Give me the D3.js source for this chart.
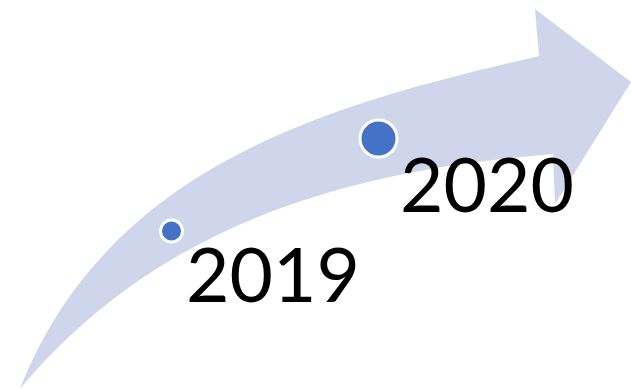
<!DOCTYPE html>
<html>
<head>
<meta charset="utf-8">
<script src="https://cdn.jsdelivr.net/npm/d3@7"></script>
<style>
  html, body { margin: 0; padding: 0; background: #ffffff; }
  svg { display: block; }
</style>
</head>
<body>
<svg id="chart" width="631" height="391"></svg>
<script>
// Timeline milestones
const years = [2019, 2020];
const yearLabels = ["2019", "2020"];

// Arrow outline: tail, bezier controls of each edge, and the arrowhead
const arrowTail = [20, 389];
const upperControls = [[110, 160], [339, 103], [539, 56]];
const arrowHead = [[535, 9], [631, 82], [555, 204], [553, 154]];
const lowerControls = [[353, 170], [160, 221], [20, 389]];

const svg = d3.select("#chart");

// Milestone positions along the arrow
const x = d3.scaleLinear().domain([2019, 2020]).range([171.5, 378.5]);
const y = d3.scaleLinear().domain([2019, 2020]).range([231, 138.5]);
const r = d3.scaleLinear().domain([2019, 2020]).range([11, 18.5]);

// Arrow body: curved edges joined by the straight arrowhead
const p = d3.path();
p.moveTo(...arrowTail);
p.bezierCurveTo(...upperControls[0], ...upperControls[1], ...upperControls[2]);
arrowHead.forEach(pt => p.lineTo(...pt));
p.bezierCurveTo(...lowerControls[0], ...lowerControls[1], ...lowerControls[2]);
p.closePath();

svg.append("path")
  .attr("d", p.toString())
  .attr("fill", "#CFD5EA");

// Milestone dots
svg.selectAll("circle.milestone")
  .data(years)
  .join("circle")
  .attr("class", "milestone")
  .attr("cx", d => x(d))
  .attr("cy", d => y(d))
  .attr("r", d => r(d))
  .attr("fill", "#4472C4")
  .attr("stroke", "#ffffff")
  .attr("stroke-width", 3);

// Year labels, set below-right of each dot
svg.selectAll("text.year")
  .data(years)
  .join("text")
  .attr("class", "year")
  .attr("x", d => x(d) + 14.5 + (d - 2019) * 7)
  .attr("y", d => y(d) + 70.5 + (d - 2019) * 3)
  .attr("font-family", "Lato, 'Open Sans', sans-serif")
  .attr("font-size", 75)
  .attr("fill", "#000000")
  .text((d, i) => yearLabels[i]);
</script>
</body>
</html>
